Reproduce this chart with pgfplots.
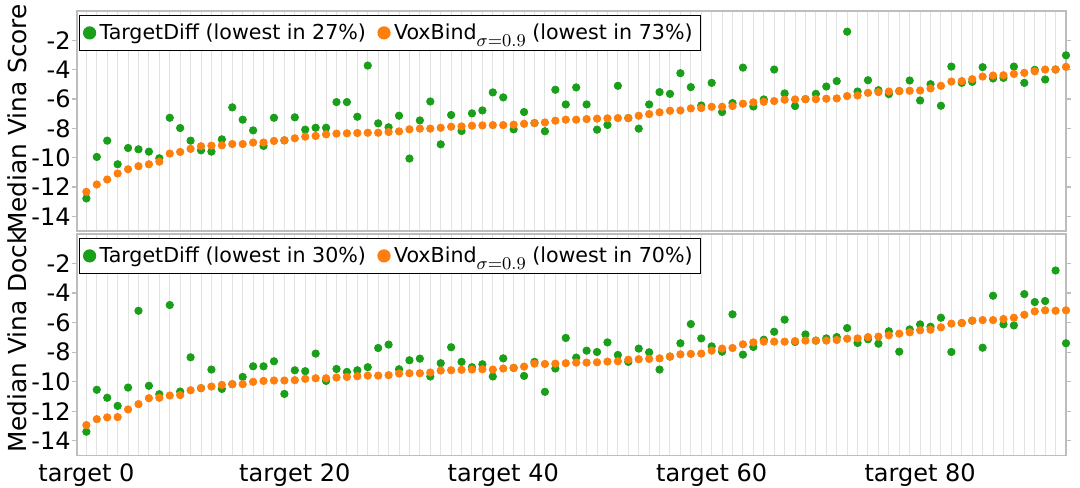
\documentclass[border=0pt]{standalone}
\usepackage{fontspec}
\setmainfont{DejaVu Sans}
\usepackage{pgfplots}
\pgfplotsset{compat=1.18}
\usepackage{pgfplotstable}

\definecolor{tdgreen}{HTML}{1A9F1A}
\definecolor{vborange}{HTML}{FF7F0E}
\definecolor{gridgray}{HTML}{E3E3E3}
\definecolor{framegray}{HTML}{BDBDBD}

% top panel: Median Vina Score
\pgfplotstableread{
x y
0 -12.78
1 -9.95
2 -8.84
3 -10.45
4 -9.34
5 -9.43
6 -9.59
7 -10.04
8 -7.28
9 -7.98
10 -8.84
11 -9.50
12 -9.59
13 -8.75
14 -6.57
15 -7.41
16 -8.14
17 -9.20
18 -7.28
19 -8.82
20 -7.25
21 -8.09
22 -7.96
23 -7.96
24 -6.21
25 -6.21
26 -7.21
27 -3.72
28 -7.66
29 -7.93
30 -7.14
31 -10.06
32 -7.46
33 -6.17
34 -9.09
35 -7.09
36 -8.18
37 -6.98
38 -6.78
39 -5.55
40 -5.89
41 -8.07
42 -6.89
43 -7.64
44 -8.20
45 -5.37
46 -6.37
47 -5.21
48 -6.37
49 -8.09
50 -7.77
51 -5.10
52 -7.30
53 -8.02
54 -6.37
55 -5.53
56 -5.65
57 -4.24
58 -5.19
59 -6.44
60 -4.90
61 -6.89
62 -6.28
63 -3.86
64 -6.51
65 -6.03
66 -3.99
67 -5.62
68 -6.48
69 -6.01
70 -5.65
71 -5.15
72 -4.78
73 -1.41
74 -5.49
75 -4.72
76 -5.40
77 -5.67
78 -5.46
79 -4.74
80 -6.10
81 -4.99
82 -6.46
83 -3.79
84 -4.90
85 -4.83
86 -3.83
87 -4.60
88 -4.56
89 -3.79
90 -4.90
91 -4.01
92 -4.67
93 -3.99
94 -3.02
}\tdA

\pgfplotstableread{
x y
0 -12.33
1 -11.83
2 -11.49
3 -11.08
4 -10.79
5 -10.58
6 -10.45
7 -10.27
8 -9.72
9 -9.61
10 -9.40
11 -9.22
12 -9.18
13 -9.16
14 -9.07
15 -9.07
16 -8.97
17 -8.97
18 -8.86
19 -8.82
20 -8.68
21 -8.57
22 -8.52
23 -8.41
24 -8.36
25 -8.34
26 -8.32
27 -8.30
28 -8.30
29 -8.25
30 -8.21
31 -8.07
32 -8.02
33 -8.02
34 -7.96
35 -7.89
36 -7.87
37 -7.82
38 -7.80
39 -7.78
40 -7.78
41 -7.75
42 -7.69
43 -7.64
44 -7.60
45 -7.48
46 -7.41
47 -7.41
48 -7.37
49 -7.34
50 -7.32
51 -7.30
52 -7.30
53 -7.14
54 -7.03
55 -6.91
56 -6.80
57 -6.78
58 -6.64
59 -6.62
60 -6.53
61 -6.53
62 -6.48
63 -6.32
64 -6.23
65 -6.19
66 -6.14
67 -6.05
68 -6.03
69 -6.01
70 -6.01
71 -5.98
72 -5.96
73 -5.80
74 -5.76
75 -5.58
76 -5.53
77 -5.49
78 -5.46
79 -5.44
80 -5.42
81 -5.28
82 -5.10
83 -4.81
84 -4.78
85 -4.65
86 -4.47
87 -4.40
88 -4.38
89 -4.29
90 -4.22
91 -4.11
92 -3.99
93 -3.99
94 -3.81
}\vbA

% bottom panel: Median Vina Dock
\pgfplotstableread{
x y
0 -13.39
1 -10.55
2 -11.09
3 -11.64
4 -10.40
5 -5.20
6 -10.28
7 -10.85
8 -4.81
9 -10.67
10 -8.35
11 -10.44
12 -9.18
13 -10.49
14 -10.17
15 -9.68
16 -8.96
17 -8.96
18 -8.62
19 -10.83
20 -9.23
21 -9.29
22 -8.10
23 -9.95
24 -9.14
25 -9.34
26 -9.23
27 -9.02
28 -7.72
29 -7.49
30 -9.16
31 -8.55
32 -8.44
33 -9.65
34 -8.75
35 -7.67
36 -8.66
37 -9.02
38 -8.82
39 -9.65
40 -8.42
41 -9.07
42 -9.61
43 -8.66
44 -10.69
45 -9.11
46 -7.04
47 -8.37
48 -7.90
49 -7.99
50 -7.34
51 -8.19
52 -8.66
53 -7.76
54 -8.01
55 -9.18
56 -8.30
57 -7.40
58 -6.10
59 -7.07
60 -7.61
61 -7.97
62 -5.44
63 -8.17
64 -7.65
65 -7.16
66 -6.62
67 -5.80
68 -7.31
69 -6.80
70 -7.22
71 -7.07
72 -6.98
73 -6.37
74 -7.38
75 -7.13
76 -7.43
77 -6.59
78 -7.97
79 -6.46
80 -6.12
81 -6.28
82 -5.67
83 -7.99
84 -6.03
85 -5.87
86 -7.70
87 -4.18
88 -6.12
89 -6.19
90 -4.07
91 -4.61
92 -4.54
93 -2.47
94 -7.40
}\tdB

\pgfplotstableread{
x y
0 -12.94
1 -12.54
2 -12.42
3 -12.40
4 -11.88
5 -11.52
6 -11.12
7 -11.09
8 -10.94
9 -10.91
10 -10.58
11 -10.44
12 -10.33
13 -10.22
14 -10.17
15 -10.17
16 -10.01
17 -9.95
18 -9.92
19 -9.92
20 -9.90
21 -9.81
22 -9.77
23 -9.77
24 -9.72
25 -9.68
26 -9.63
27 -9.59
28 -9.59
29 -9.56
30 -9.45
31 -9.43
32 -9.43
33 -9.38
34 -9.25
35 -9.23
36 -9.20
37 -9.18
38 -9.16
39 -9.18
40 -9.11
41 -9.07
42 -8.98
43 -8.78
44 -8.80
45 -8.78
46 -8.75
47 -8.71
48 -8.71
49 -8.69
50 -8.64
51 -8.62
52 -8.51
53 -8.48
54 -8.46
55 -8.42
56 -8.30
57 -8.15
58 -8.12
59 -8.10
60 -7.90
61 -7.76
62 -7.72
63 -7.47
64 -7.34
65 -7.29
66 -7.29
67 -7.29
68 -7.25
69 -7.22
70 -7.22
71 -7.22
72 -7.18
73 -7.09
74 -7.07
75 -6.98
76 -6.95
77 -6.86
78 -6.75
79 -6.66
80 -6.52
81 -6.48
82 -6.32
83 -6.07
84 -6.03
85 -5.87
86 -5.83
87 -5.83
88 -5.76
89 -5.67
90 -5.47
91 -5.24
92 -5.17
93 -5.20
94 -5.17
}\vbB

\pgfplotsset{
  panel/.style={
    scale only axis, width=494.5bp,
    xmin=-0.9, xmax=94, ymin=-15, ymax=0,
    xtick={0,20,40,60,80},
    minor xtick={0,1,...,94},
    xmajorgrids, xminorgrids,
    major grid style={gridgray, line width=0.5bp},
    minor grid style={gridgray, line width=0.5bp},
    axis line style={framegray, line width=0.8bp},
    ytick={-14,-12,-10,-8,-6,-4,-2},
    yticklabels={-14,-12,-10,-8,-6,-4,-2},
    tick align=outside,
    major tick length=2.5bp,
    x tick style={draw=none},
    minor x tick style={draw=none},
    y tick style={framegray, line width=0.6bp},
    yticklabel style={font=\fontsize{12bp}{14bp}\selectfont, inner sep=0pt, anchor=east, xshift=-0.5bp},
    xticklabel style={font=\fontsize{12bp}{14bp}\selectfont, inner sep=0pt, anchor=base, yshift=-10.25bp},
    legend columns=2,
    legend cell align=left,
    legend style={at={(0,1)}, anchor=north west, xshift=1bp, yshift=-2bp,
      draw=black, line width=0.6bp, fill=white,
      font=\fontsize{10.3bp}{12bp}\selectfont,
      inner xsep=2bp, inner ysep=2bp,
      /tikz/every even column/.append style={column sep=4bp}},
    legend image code/.code={\draw[##1, mark size=3bp] plot coordinates {(0bp,0bp)};},
    td/.style={only marks, mark=*, mark size=1.85bp, color=tdgreen},
    vb/.style={only marks, mark=*, mark size=1.85bp, color=vborange},
  }
}

\begin{document}
\begin{tikzpicture}
\path[use as bounding box, fill=white] (0,0) rectangle (540bp,244bp);

\begin{axis}[panel, height=110bp, at={(38.5bp,128.5bp)}, anchor=south west,
  xticklabels={}]
\addplot[td] table[x=x,y=y]{\tdA};
\addlegendentry{TargetDiff (lowest in 27\%)}
\addplot[vb] table[x=x,y=y]{\vbA};
\addlegendentry{VoxBind\raisebox{-3.8bp}{\fontsize{9.2bp}{9bp}\selectfont$\sigma{=}0.9$} (lowest in 73\%)}
\end{axis}

\begin{axis}[panel, height=110.75bp, at={(38.5bp,16.25bp)}, anchor=south west,
  xticklabels={target 0,target 20,target 40,target 60,target 80}]
\addplot[td] table[x=x,y=y]{\tdB};
\addlegendentry{TargetDiff (lowest in 30\%)}
\addplot[vb] table[x=x,y=y]{\vbB};
\addlegendentry{VoxBind\raisebox{-3.8bp}{\fontsize{9.2bp}{9bp}\selectfont$\sigma{=}0.9$} (lowest in 70\%)}
\end{axis}

\node[rotate=90, anchor=base, font=\fontsize{12.4bp}{14bp}\selectfont] at (13bp,184.5bp) {Median Vina Score};
\node[rotate=90, anchor=base, font=\fontsize{12.4bp}{14bp}\selectfont] at (13bp,73.25bp) {Median Vina Dock};
\end{tikzpicture}
\end{document}
